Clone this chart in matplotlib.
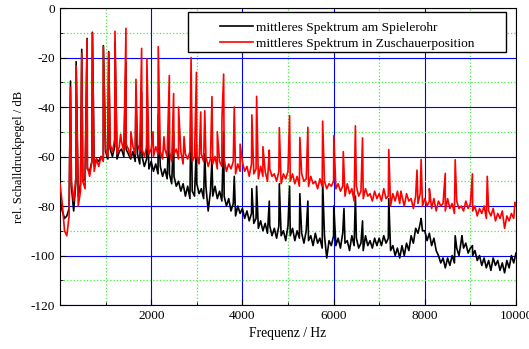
import numpy as np
import matplotlib.pyplot as plt
from matplotlib.ticker import MultipleLocator
from matplotlib.patches import Rectangle

plt.rcParams['font.family'] = 'Liberation Serif'
plt.rcParams['axes.unicode_minus'] = False

# --- Daten ---
# Grundrauschen im 50-Hz-Raster, 0 ... 10000 Hz
freq_grid = np.arange(0, 10001, 50)

red_floor = [
    -71, -79, -90, -92, -84, -70, -78, -68, -80, -74, -70, -73, -64, -68, -62, -66, -61, -64, -60, -62,
    -57, -60, -55, -58, -53, -59, -56, -54, -58, -55, -57, -60, -56, -59, -55, -58, -57, -60, -56, -59,
    -57, -60, -56, -59, -58, -61, -57, -60, -58, -62, -59, -57, -61, -58, -63, -59, -61, -58, -62, -60,
    -60, -63, -59, -62, -60, -64, -61, -63, -60, -65, -62, -64, -61, -66, -63, -65, -62, -67, -63, -66,
    -62, -66, -64, -68, -63, -67, -65, -69, -64, -68, -66, -70, -65, -68, -67, -70, -66, -71, -67, -69,
    -66, -70, -67, -71, -68, -72, -67, -70, -69, -72, -68, -71, -70, -73, -69, -72, -70, -73, -71, -72,
    -70, -73, -71, -74, -72, -76, -71, -75, -73, -78, -72, -76, -74, -77, -73, -76, -75, -78, -74, -77,
    -75, -78, -73, -77, -76, -80, -75, -78, -74, -79, -76, -80, -75, -78, -77, -81, -76, -79, -75, -80,
    -77, -80, -78, -81, -77, -82, -78, -80, -79, -82, -77, -81, -79, -83, -78, -81, -80, -82, -78, -81,
    -79, -82, -80, -84, -81, -83, -80, -85, -82, -84, -81, -86, -83, -85, -82, -89, -84, -86, -83, -85,
    -80,
]

black_floor = [
    -77, -82, -85, -84, -81, -72, -82, -70, -76, -71, -70, -69, -65, -66, -62, -64, -61, -62, -60, -61,
    -58, -61, -57, -60, -56, -61, -58, -57, -60, -57, -59, -61, -58, -62, -59, -63, -60, -64, -61, -65,
    -62, -66, -63, -67, -64, -68, -65, -69, -67, -71, -68, -72, -70, -74, -71, -76, -72, -77, -74, -76,
    -71, -75, -73, -77, -72, -82, -74, -76, -72, -77, -74, -78, -76, -80, -77, -82, -79, -84, -80, -83,
    -81, -85, -82, -86, -83, -87, -85, -89, -86, -90, -87, -91, -88, -92, -89, -93, -88, -92, -90, -94,
    -88, -92, -89, -94, -90, -93, -91, -95, -90, -94, -92, -96, -91, -95, -93, -97, -92, -101, -94, -96,
    -92, -96, -93, -97, -91, -95, -94, -98, -92, -96, -93, -97, -95, -98, -92, -96, -94, -97, -93, -96,
    -93, -96, -92, -95, -93, -98, -96, -100, -97, -101, -96, -100, -95, -98, -92, -95, -89, -91, -87, -90,
    -90, -94, -91, -96, -93, -98, -100, -103, -101, -105, -101, -104, -100, -103, -97, -100, -94, -97, -95, -99,
    -97, -100, -98, -102, -100, -104, -101, -105, -102, -106, -101, -104, -102, -106, -103, -107, -102, -105, -100, -103,
    -99,
]

# Spitzen (Harmonische)
red_peak_freq = [230, 354, 477, 594, 711, 951, 1068, 1206, 1330, 1447, 1555, 1666, 1790, 1906,
                 2040, 2155, 2280, 2398, 2492, 2600, 2720, 2875, 2992, 3086, 3175, 3333, 3450,
                 3552, 3589, 3822, 3950, 4208, 4312, 4450, 4590, 4810, 5035, 5260, 5436, 5760,
                 6005, 6213, 6478, 6635, 7210, 7476, 7829, 7920, 8100, 8449, 8667, 9045, 9370, 9978]
red_peak_db = [-32, -23.3, -18.3, -12.7, -10.2, -15.6, -17.9, -9.4, -51, -8.2, -50, -28.8, -16.3, -20.6,
               -50, -15.6, -52, -27.3, -34.6, -40, -52, -20, -26, -42, -41.5, -35.8, -50,
               -44.6, -26.7, -40, -55, -43.2, -35.7, -56, -57.4, -48.3, -43.5, -52.3, -48.2, -45.7,
               -51.6, -58, -47.6, -52.5, -57.2, -74, -65.5, -61.2, -73, -66.8, -61.3, -67, -68, -78.5]

black_peak_freq = [230, 354, 477, 594, 711, 951, 1068, 1206, 1447, 1666, 1790, 1906, 2155, 2398,
                   2492, 2875, 2992, 3175, 3333, 3589, 3822, 4208, 4312, 4590, 4810, 5035, 5260,
                   5436, 5760, 6005, 6228, 6478, 6635, 7210, 7920, 8667, 8814, 9045]
black_peak_db = [-29.5, -21.7, -16.7, -12.3, -9.8, -15.2, -17.6, -14, -22, -38, -34, -40, -43, -42,
                 -50, -35, -55, -59, -61, -50, -68, -73, -72, -78, -71, -72, -75,
                 -78, -70, -80, -81, -76, -86, -77, -85, -92, -92, -96]


def merge_spectrum(floor_f, floor_db, peak_f, peak_db):
    f = np.concatenate([np.asarray(floor_f, float), np.asarray(peak_f, float)])
    v = np.concatenate([np.asarray(floor_db, float), np.asarray(peak_db, float)])
    order = np.argsort(f, kind='stable')
    return f[order], v[order]


f_black, db_black = merge_spectrum(freq_grid, black_floor, black_peak_freq, black_peak_db)
f_red, db_red = merge_spectrum(freq_grid, red_floor, red_peak_freq, red_peak_db)

fig = plt.figure(figsize=(5.29, 3.49), dpi=100)
ax = fig.add_axes([0.1134, 0.126, 0.862, 0.851])

ax.plot(f_black, db_black, color='black', lw=1.2, label='mittleres Spektrum am Spielerohr', zorder=3)
ax.plot(f_red, db_red, color='red', lw=1.2, label='mittleres Spektrum in Zuschauerposition', zorder=4)

ax.set_xlim(0, 10000)
ax.set_ylim(-120, 0)
ax.set_xticks([2000, 4000, 6000, 8000, 10000])
ax.xaxis.set_minor_locator(MultipleLocator(1000))
ax.set_yticks(np.arange(-120, 1, 20))
ax.yaxis.set_minor_locator(MultipleLocator(10))

ax.grid(which='major', color='blue', linestyle='-', linewidth=0.8, zorder=1)
ax.grid(which='minor', color='#44ee44', linestyle=':', linewidth=0.9, zorder=1)
ax.set_axisbelow(True)

ax.tick_params(which='both', direction='in', labelsize=9.5, color='black')
ax.tick_params(which='major', length=4)
ax.tick_params(which='minor', length=2)

ax.set_xlabel('Frequenz / Hz', fontsize=9.8)
ax.set_ylabel('rel. Schalldruckpegel / dB', fontsize=9.1)

# Legende mit eigenem Rahmen
ax.add_patch(Rectangle((0.2807, 0.8519), 0.6973, 0.1346, transform=ax.transAxes,
                       facecolor='white', edgecolor='black', lw=1.0, zorder=6))
leg = ax.legend(loc='upper left', bbox_to_anchor=(0.351, 0.955), frameon=False,
                fontsize=9.6, borderpad=0, borderaxespad=0, handlelength=2.5,
                handletextpad=0.2, labelspacing=0.3)
leg.set_zorder(7)

fig.savefig('out.png', dpi=100)
